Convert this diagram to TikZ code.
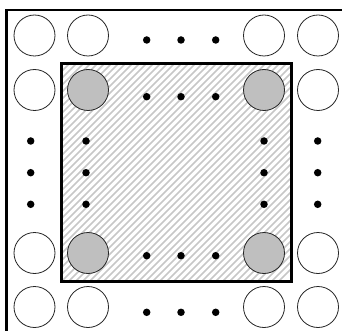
\documentclass[tikz,border=0pt]{standalone}
\begin{document}
\begin{tikzpicture}[x=1pt,y=-1pt,
  pin/.style={circle,draw=black!85,line width=0.8pt,minimum size=41pt,inner sep=0pt,fill=white},
  graypin/.style={pin,fill=black!25},
  dotn/.style={circle,fill=black,inner sep=0pt,minimum size=7.5pt},
  frame/.style={line width=2.6pt},
  hatch/.style={black!22,line width=1.6pt}]
\useasboundingbox (0,0) rectangle (342,331);
% outer frame (top and left edges)
\draw[frame] (6.7,331) -- (6.7,10) -- (342,10);
% hatched inner square
\begin{scope}
  \clip (61,64) rectangle (291.7,281);
  \foreach \k in {-40,...,40}{
    \draw[hatch] ({\k*7-20},300) -- ({\k*7+240},40);
  }
\end{scope}
% circles
\foreach \nm/\x in {a/34.5,b/88,c/264,d/318}{
  \node[pin] (\nm1) at (\x,35.5) {};
  \node[pin] (\nm4) at (\x,307) {};
}
\node[pin] (a2) at (34.5,90) {};
\node[pin] (d2) at (318,90) {};
\node[pin] (a3) at (34.5,253) {};
\node[pin] (d3) at (318,253) {};
\node[graypin] (b2) at (88,90) {};
\node[graypin] (c2) at (264,90) {};
\node[graypin] (b3) at (88,253) {};
\node[graypin] (c3) at (264,253) {};
% inner square border
\draw[line width=3pt] (61,64) rectangle (291.7,281);
% dots
\foreach \i/\x in {1/146.7,2/181,3/215.7}{
  \node[dotn] (t\i) at (\x,40) {};
  \node[dotn] (ti\i) at (\x,96.7) {};
  \node[dotn] (bi\i) at (\x,255.7) {};
  \node[dotn] (b\i) at (\x,312.3) {};
}
\foreach \i/\y in {1/141,2/172.7,3/204.3}{
  \node[dotn] (l\i) at (30.7,\y) {};
  \node[dotn] (li\i) at (86,\y) {};
  \node[dotn] (ri\i) at (264,\y) {};
  \node[dotn] (r\i) at (317.7,\y) {};
}
\end{tikzpicture}
\end{document}
